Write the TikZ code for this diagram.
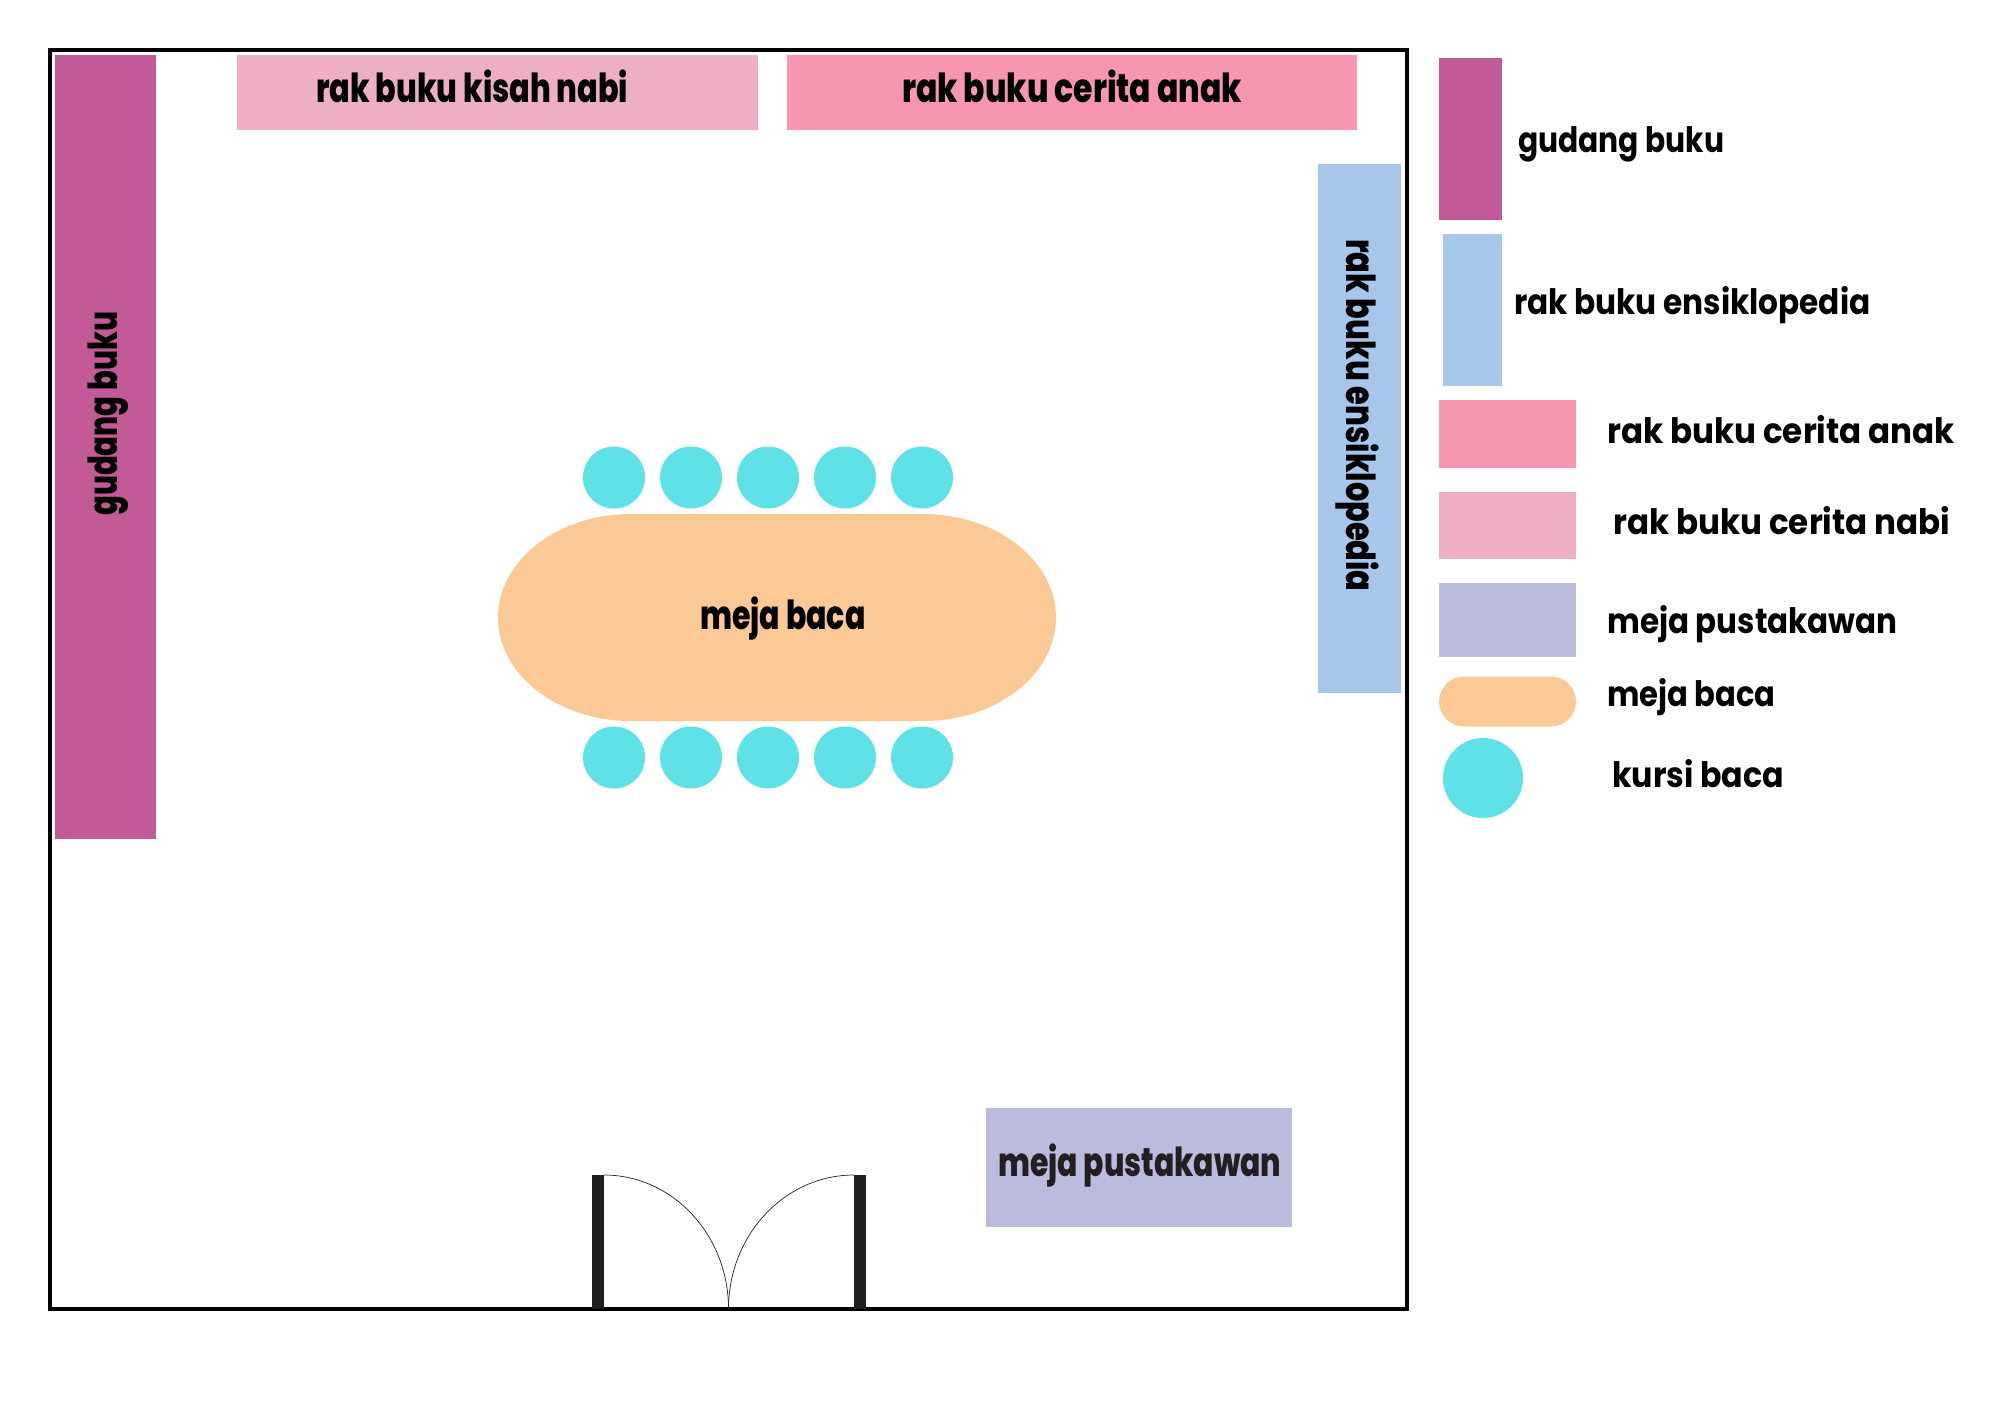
\documentclass[tikz,border=0pt]{standalone}
\usepackage{graphicx}
\usepackage{fontspec}
\setmainfont{Poppins}
\newfontfamily\tebal{Poppins ExtraBold}
\usetikzlibrary{positioning}

\definecolor{gudangc}{HTML}{C15A97}
\definecolor{kisahc}{HTML}{EEAEC5}
\definecolor{anakc}{HTML}{F797AF}
\definecolor{ensic}{HTML}{A6C6EA}
\definecolor{pustc}{HTML}{BBBCDD}
\definecolor{mejac}{HTML}{FAC995}
\definecolor{kursic}{HTML}{5EE2E7}
\definecolor{pintuc}{HTML}{231F20}

\newcommand{\sempit}[2]{\scalebox{#1}[1]{#2}}

\begin{document}
\begin{tikzpicture}[x=1pt,y=-1pt,
		roomlabel/.style={inner sep=0pt,anchor=base west,font=\fontsize{40}{40}\selectfont\tebal},
		keylabel/.style={inner sep=0pt,anchor=base west,font=\fontsize{35}{35}\selectfont\bfseries},
		kursi/.style={circle,fill=kursic,inner sep=0pt,minimum size=62pt}]
	\useasboundingbox (0,0) rectangle (2000,1414);

	% ruangan
	\fill[gudangc] (55,55) rectangle (155.5,838.5);
	\fill[kisahc] (237,55) rectangle (758,130);
	\fill[anakc] (787,55) rectangle (1357,130);
	\fill[ensic] (1318,164) rectangle (1401,692.5);
	\fill[pustc] (986,1107.5) rectangle (1292,1227);
	\draw[line width=3.2pt] (50,50) rectangle (1407,1309);

	\node[roomlabel,rotate=90] (labelgudang) at (117,516) {\sempit{.73}{gudang buku}};
	\node[roomlabel] (labelkisah) at (316,102) {\sempit{.758}{rak buku kisah nabi}};
	\node[roomlabel] (labelanak) at (902,102) {\sempit{.785}{rak buku cerita anak}};
	\node[roomlabel,rotate=-90] (labelensi) at (1346,239) {\sempit{.76}{rak buku ensiklopedia}};
	\node[roomlabel,text=pintuc] (labelpust) at (998,1176) {\sempit{.747}{meja pustakawan}};

	% meja baca dan kursi
	\fill[mejac] (631,514) -- (923,514) arc (-90:90:133 and 103.5) -- (631,721) arc (90:270:133 and 103.5) -- cycle;
	\node[roomlabel] (labelmeja) at (700,629) {\sempit{.75}{meja baca}};
	\foreach \i/\x in {1/614,2/691,3/768,4/845,5/922} {
		\node[kursi] (atas\i) at (\x,477.5) {};
		\node[kursi] (bawah\i) at (\x,757.5) {};
	}

	% pintu
	\fill[pintuc] (592,1175) rectangle (604,1309);
	\fill[pintuc] (854,1175) rectangle (866,1309);
	\draw[pintuc,line width=.7pt] (604,1175) arc (-90:0:124.5 and 134);
	\draw[pintuc,line width=.7pt] (854,1175) arc (-90:-180:125.5 and 134);

	% keterangan
	\fill[gudangc] (1439,58) rectangle (1502,220);
	\fill[ensic] (1443,234) rectangle (1502,386);
	\fill[anakc] (1439,400) rectangle (1576,468);
	\fill[kisahc] (1439,492) rectangle (1576,559);
	\fill[pustc] (1439,583) rectangle (1576,656.5);
	\fill[mejac] (1464,676.5) -- (1551,676.5) arc (-90:90:25) -- (1464,726.5) arc (90:270:25) -- cycle;
	\node[kursi,minimum size=80pt] (keykursi) at (1483,778) {};

	\node[keylabel] (keygudang) at (1518,152) {\sempit{.85}{gudang buku}};
	\node[keylabel] (keyensi) at (1514,314) {\sempit{.89}{rak buku ensiklopedia}};
	\node[keylabel] (keyanak) at (1607,443) {\sempit{.93}{rak buku cerita anak}};
	\node[keylabel] (keykisah) at (1613,534) {\sempit{.93}{rak buku cerita nabi}};
	\node[keylabel] (keypust) at (1607,633) {\sempit{.885}{meja pustakawan}};
	\node[keylabel] (keymeja) at (1607,706) {\sempit{.875}{meja baca}};
	\node[keylabel] (keykursib) at (1612,787) {\sempit{.905}{kursi baca}};
\end{tikzpicture}
\end{document}
